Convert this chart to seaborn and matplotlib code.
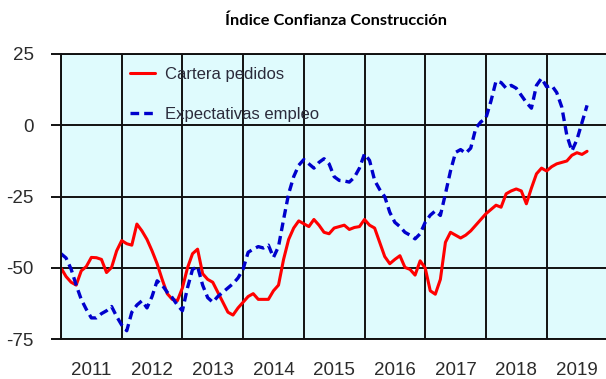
import numpy as np
import pandas as pd
import matplotlib
matplotlib.use("Agg")
import matplotlib.pyplot as plt
import seaborn as sns

# Monthly survey balances, January 2011 onwards
start_month = "2011-01"
cartera_pedidos = [
    -50, -53, -55, -56, -51, -49.5, -46.3, -46.4, -47, -51.6, -49.8, -44,
    -40.4, -41.5, -42, -34.6, -37, -40, -44, -48.5, -54, -59, -61, -61.5,
    -57, -50, -45, -43.4, -52, -54, -55, -58.5, -62, -65.5, -66.5, -64,
    -62, -60, -59, -61, -61, -61, -58, -56, -47, -40, -36, -33.5,
    -34.5, -35.5, -33, -35, -37.5, -38, -36, -35.5, -35, -36.5, -35.8, -35.5,
    -33, -35, -36, -41, -46, -48.5, -47, -45.7, -49.8, -50.5, -52.5, -47.5,
    -50, -58, -59.2, -54, -41, -37.5, -38.5, -39.5, -38.5, -37, -35, -33,
    -31, -29.5, -28, -28.7, -24, -23, -22.3, -23, -27.5, -22, -17, -15,
    -16, -14.5, -13.5, -13, -12.5, -10.5, -9.6, -10.2, -9.1,
]
expectativas_empleo = [
    -45, -46.5, -50.4, -56, -61, -64.5, -67.5, -67.5, -66, -65, -63.5, -67,
    -70, -72, -65.5, -63, -61.5, -64, -60, -54.5, -56, -58.5, -60.4, -63,
    -65, -57, -50.5, -49.5, -56, -60.4, -62, -60, -58.5, -57, -55.5, -53.5,
    -50.4, -44.5, -43.4, -42.5, -43, -42, -46.3, -42.5, -33, -24, -18, -14,
    -12, -13.5, -15, -13, -11.7, -13.5, -18, -19.3, -19.5, -19.9, -18.2, -15,
    -10, -12.3, -19.3, -22.5, -25, -30.5, -34, -35.5, -37.5, -38.5, -39.8, -38,
    -34, -31.5, -30, -31.6, -24, -16, -9.5, -8.5, -9.8, -8, -1, 1.2,
    2.5, 8.5, 15.5, 15, 13, 14, 13, 10.5, 8, 6, 14, 16.5,
    13.5, 14, 11.5, 6.4, -3.5, -9, -5, 1, 7,
]
series_names = ["Cartera pedidos", "Expectativas empleo"]
year_labels = ["2011", "2012", "2013", "2014", "2015", "2016", "2017", "2018", "2019"]
y_ticks = [-75, -50, -25, 0, 25]
title = "Índice Confianza Construcción"

dates = pd.date_range(start_month, periods=len(cartera_pedidos), freq="MS")
t = dates.year + (dates.month - 1) / 12.0
df = pd.DataFrame({
    "t": np.concatenate([t, t]),
    "valor": cartera_pedidos + expectativas_empleo,
    "serie": [series_names[0]] * len(t) + [series_names[1]] * len(t),
})

sns.set_theme(style="white")
plt.rcParams["font.family"] = ["Liberation Sans", "DejaVu Sans"]

fig = plt.figure(figsize=(6.06, 3.79), dpi=100)
ax = fig.add_axes([61 / 606, 1 - 339.3 / 379, 545 / 606, 285.3 / 379])
ax.set_facecolor("#dffbfd")

sns.lineplot(
    data=df, x="t", y="valor", hue="serie", style="serie",
    palette={series_names[0]: "#ff0000", series_names[1]: "#0000cc"},
    dashes={series_names[0]: "", series_names[1]: (2.6, 1.5)},
    linewidth=2.2, ax=ax,
)
for ln in ax.lines:
    if ln.get_color() == "#0000cc":
        ln.set_linewidth(2.4)

years = [int(y) for y in year_labels]
ax.set_xlim(years[0], years[0] + 545 / 60.7)
ax.set_ylim(y_ticks[0], y_ticks[-1])
ax.set_yticks(y_ticks)
ax.set_yticklabels([str(v) for v in y_ticks])
ax.set_xticks(years)
ax.set_xticklabels([])
ax.set_xticks([y + 0.5 for y in years], minor=True)
ax.set_xticklabels(year_labels, minor=True)

ax.tick_params(axis="x", which="both", length=0, pad=16, labelsize=13.5, labelcolor="#2b2b2b")
ax.tick_params(axis="y", which="major", left=True, length=7.5, width=1.3, color="black",
               pad=12, labelsize=13.5, labelcolor="#2b2b2b")
ax.grid(True, which="major", color="#111111", linewidth=1.4)
for side in ["top", "bottom", "left"]:
    ax.spines[side].set_visible(True)
    ax.spines[side].set_color("#111111")
    ax.spines[side].set_linewidth(1.4)
ax.spines["right"].set_visible(False)
ax.set_xlabel("")
ax.set_ylabel("")

leg = ax.legend(
    loc="upper left", bbox_to_anchor=((130 - 61) / 545, 0.955), frameon=False,
    fontsize=12, handlelength=1.5, handletextpad=0.6, labelspacing=1.5,
    borderpad=0, borderaxespad=0,
)
for txt in leg.get_texts():
    txt.set_color("#2b2b3b")

fig.text(336 / 606, 1 - 21 / 379, title, ha="center", va="center",
         fontsize=11.8, fontweight="bold", family=["Lato", "DejaVu Sans"], color="black")

fig.savefig("out.png", dpi=100)
